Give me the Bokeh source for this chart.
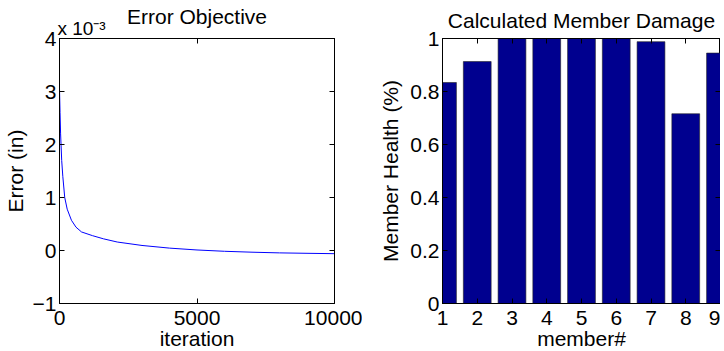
from bokeh.plotting import figure
from bokeh.layouts import row
from bokeh.models import Range1d, LinearAxis, FixedTicker
from bokeh.embed import file_html
from bokeh.resources import INLINE

# ---- data ----
iterations = [0, 20, 40, 80, 120, 190, 280, 435, 600, 800, 1200, 1600, 2100,
              3000, 4000, 5000, 6000, 7000, 8000, 9000, 10000]
error_e3 = [3.05, 2.6, 2.2, 1.7, 1.4, 1.0, 0.78, 0.57, 0.44, 0.35, 0.28, 0.22, 0.16,
            0.095, 0.045, 0.01, -0.015, -0.032, -0.045, -0.053, -0.06]  # x 10^-3 in
iter_ticks = [0, 5000, 10000]
err_ticks = [-1, 0, 1, 2, 3, 4]
scale_label = "x 10\u207b\u00b3"
scale_label_pos = 800  # iteration coordinate where the scale-factor text is centred

members = [1, 2, 3, 4, 5, 6, 7, 8, 9]
health = [0.834, 0.913, 1.0, 1.0, 1.0, 1.0, 0.988, 0.716, 0.945]
health_ticks = [0, 0.2, 0.4, 0.6, 0.8, 1]

FONT = "Liberation Sans"
FS = "21px"
H = 356


def tick_only_axis(ticks):
    ax = LinearAxis(ticker=FixedTicker(ticks=ticks))
    ax.major_tick_in = 5
    ax.major_tick_out = 0
    ax.minor_tick_in = 0
    ax.minor_tick_out = 0
    ax.minor_tick_line_color = None
    ax.axis_line_color = "black"
    ax.major_tick_line_color = "black"
    ax.major_label_text_color = None
    ax.major_label_text_font_size = "0px"
    ax.major_label_standoff = 0
    return ax


def style(p, xt, yt, ylabel_standoff, ylabels=None):
    p.xaxis.ticker = FixedTicker(ticks=xt)
    p.yaxis.ticker = FixedTicker(ticks=yt)
    if ylabels:
        p.yaxis.major_label_overrides = ylabels
    for ax in (p.xaxis[0], p.yaxis[0]):
        ax.major_tick_in = 5
        ax.major_tick_out = 0
        ax.minor_tick_in = 0
        ax.minor_tick_out = 0
        ax.minor_tick_line_color = None
        ax.axis_line_color = "black"
        ax.major_tick_line_color = "black"
        ax.major_label_text_font = FONT
        ax.major_label_text_font_size = FS
        ax.major_label_text_color = "black"
        ax.axis_label_text_font = FONT
        ax.axis_label_text_font_size = FS
        ax.axis_label_text_font_style = "normal"
        ax.axis_label_text_color = "black"
    p.xaxis.major_label_standoff = 7
    p.xaxis.axis_label_standoff = -1
    p.yaxis.major_label_standoff = 3
    p.yaxis.axis_label_standoff = ylabel_standoff
    p.grid.visible = False
    p.outline_line_color = "black"
    p.background_fill_color = "white"
    p.border_fill_color = "white"


def title_axis(ax, text):
    ax.axis_label = text
    ax.axis_label_text_font = FONT
    ax.axis_label_text_font_size = FS
    ax.axis_label_text_font_style = "normal"
    ax.axis_label_text_color = "black"


# ---- left: error objective ----
p1 = figure(width=362, height=H, output_backend="svg", toolbar_location=None,
            x_range=Range1d(0, 10000), y_range=Range1d(-1, 4),
            x_axis_label="iteration", y_axis_label="Error (in)",
            min_border_left=58, min_border_right=28, min_border_top=38, min_border_bottom=53)
p1.line(iterations, error_e3, line_color="#0000FF", line_width=1)
style(p1, iter_ticks, err_ticks, 3)
p1.add_layout(tick_only_axis(iter_ticks), "above")
p1.add_layout(tick_only_axis(err_ticks), "right")
# scale factor label + title on an outer top axis
lab = LinearAxis(ticker=FixedTicker(ticks=[scale_label_pos]))
lab.major_tick_in = 0
lab.major_tick_out = 0
lab.minor_tick_in = 0
lab.minor_tick_out = 0
lab.major_tick_line_color = None
lab.minor_tick_line_color = None
lab.axis_line_color = None
lab.major_label_overrides = {scale_label_pos: scale_label}
lab.major_label_text_font = FONT
lab.major_label_text_font_size = "19px"
lab.major_label_text_color = "black"
lab.major_label_standoff = 0
title_axis(lab, "Error Objective")
lab.axis_label_standoff = -13
p1.add_layout(lab, "above")

# ---- right: member damage ----
p2 = figure(width=358, height=H, output_backend="svg", toolbar_location=None,
            x_range=Range1d(1, 9), y_range=Range1d(0, 1),
            x_axis_label="member#", y_axis_label="Member Health (%)",
            min_border_left=80, min_border_right=0, min_border_top=38, min_border_bottom=53)
p2.vbar(x=members, top=health, width=0.8, fill_color="#00008F",
        line_color="#222222", line_width=0.6)
style(p2, members, health_ticks, 5, ylabels={0: "0", 1: "1"})
top2 = tick_only_axis(members)
title_axis(top2, "Calculated Member Damage")
top2.axis_label_standoff = 7
p2.add_layout(top2, "above")
p2.add_layout(tick_only_axis(health_ticks), "right")

layout = row(p1, p2)
open("out.html", "w").write(file_html(layout, INLINE))
